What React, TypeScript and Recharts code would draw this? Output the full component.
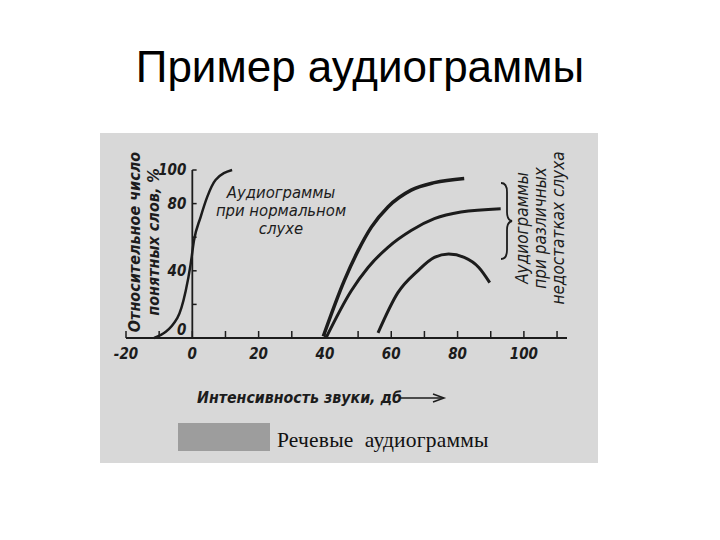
import React from 'react';
import { LineChart, Line, XAxis, YAxis, ReferenceLine, ReferenceDot } from 'recharts';

// интенсивность звука, дБ (ось X) / понятные слова, % (ось Y)
const normalHearing = [
  { x: -11.5, y: 0 },
  { x: -4.5, y: 12 },
  { x: -2, y: 28 },
  { x: -0.5, y: 44 },
  { x: 0.5, y: 58 },
  { x: 2.5, y: 72 },
  { x: 4.5, y: 84 },
  { x: 7, y: 94 },
  { x: 12, y: 100 },
];

const impairedHigh = [
  { x: 39.5, y: 1 },
  { x: 45.8, y: 34 },
  { x: 50, y: 52 },
  { x: 54, y: 66 },
  { x: 59, y: 78 },
  { x: 66, y: 88 },
  { x: 73, y: 92.5 },
  { x: 82, y: 95 },
];

const impairedMid = [
  { x: 40.3, y: 0 },
  { x: 47.9, y: 28 },
  { x: 53, y: 42 },
  { x: 59, y: 54 },
  { x: 66, y: 64 },
  { x: 73, y: 71 },
  { x: 81, y: 75 },
  { x: 93, y: 77 },
];

const impairedLow = [
  { x: 56, y: 3 },
  { x: 62, y: 27 },
  { x: 68, y: 40 },
  { x: 73, y: 48 },
  { x: 77.3, y: 50 },
  { x: 82, y: 48 },
  { x: 86.4, y: 42 },
  { x: 89.7, y: 33 },
];

const xTicks = [-20, -10, 0, 10, 20, 30, 40, 50, 60, 70, 80, 90, 100, 110];
const xLabels = [-20, 0, 20, 40, 60, 80, 100];
const yTicks = [20, 40, 60, 80, 100];
const yLabels = [100, 80, 40, 0];

const INK = '#1c1c1c';
const SCAN_FONT = '"Liberation Sans Narrow", "DejaVu Sans Condensed", "Liberation Sans", sans-serif';

function XTick(props: any) {
  const { x, y, payload } = props;
  const v = payload.value;
  return (
    <g>
      <line x1={x} y1={y} x2={x} y2={y - 7} stroke={INK} strokeWidth={1.5} />
      {xLabels.includes(v) && (
        <text
          x={x}
          y={y + 21}
          textAnchor="middle"
          fill={INK}
          fontSize={15}
          fontStyle="italic"
          fontWeight="bold"
          fontFamily={SCAN_FONT}
        >
          {v}
        </text>
      )}
    </g>
  );
}

export default function App() {
  return (
    <div style={{ position: 'absolute', left: 0, top: 0, width: 720, height: 540, background: '#fff', overflow: 'hidden' }}>
      <div
        style={{
          position: 'absolute',
          left: 0,
          top: 42,
          width: 720,
          textAlign: 'center',
          fontFamily: '"Liberation Sans", Arial, sans-serif',
          fontSize: 44,
          color: '#000',
        }}
      >
        Пример аудиограммы
      </div>

      <div style={{ position: 'absolute', left: 100, top: 133, width: 498, height: 330, background: '#d8d8d8' }} />

      <LineChart
        width={720}
        height={540}
        style={{ position: 'absolute', left: 0, top: 0 }}
        margin={{ top: 170, right: 153, bottom: 172, left: 126 }}
      >
        <XAxis
          dataKey="x"
          type="number"
          domain={[-20, 113]}
          ticks={xTicks}
          interval={0}
          height={30}
          tickSize={0}
          tickMargin={0}
          tickLine={false}
          axisLine={{ stroke: INK, strokeWidth: 1.8 }}
          tick={<XTick />}
          allowDataOverflow
        />
        <YAxis type="number" domain={[0, 100]} hide />
        <ReferenceLine segment={[{ x: 0, y: 0 }, { x: 0, y: 100 }]} stroke={INK} strokeWidth={1.8} />
        {yTicks.map((v) => (
          <ReferenceLine key={v} segment={[{ x: 0, y: v }, { x: 1.3, y: v }]} stroke={INK} strokeWidth={1.5} />
        ))}
        {yLabels.map((v) => (
          <ReferenceDot
            key={'l' + v}
            x={0}
            y={v === 0 ? 5 : v}
            r={1}
            fill="none"
            stroke="none"
            label={{
              value: String(v),
              position: 'left',
              offset: 5,
              fill: INK,
              fontSize: 15,
              fontStyle: 'italic',
              fontWeight: 'bold',
              fontFamily: SCAN_FONT,
            }}
          />
        ))}
        <Line data={normalHearing} dataKey="y" type="monotone" stroke={INK} strokeWidth={2.5} dot={false} isAnimationActive={false} />
        <Line data={impairedHigh} dataKey="y" type="monotone" stroke={INK} strokeWidth={3.5} dot={false} isAnimationActive={false} />
        <Line data={impairedMid} dataKey="y" type="monotone" stroke={INK} strokeWidth={3} dot={false} isAnimationActive={false} />
        <Line data={impairedLow} dataKey="y" type="monotone" stroke={INK} strokeWidth={3} dot={false} isAnimationActive={false} />
      </LineChart>

      {/* подпись оси Y */}
      <div
        style={{
          position: 'absolute',
          left: 144,
          top: 242,
          transform: 'translate(-50%, -50%) rotate(-90deg)',
          whiteSpace: 'nowrap',
          textAlign: 'center',
          fontFamily: SCAN_FONT,
          fontStyle: 'italic',
          fontWeight: 'bold',
          fontSize: 16,
          lineHeight: '19px',
          color: INK,
        }}
      >
        Относительное число
        <br />
        понятных слов, %
      </div>

      {/* подпись нормального слуха */}
      <div
        style={{
          position: 'absolute',
          left: 281,
          top: 184,
          transform: 'translateX(-50%)',
          whiteSpace: 'nowrap',
          textAlign: 'center',
          fontFamily: SCAN_FONT,
          fontStyle: 'italic',
          fontSize: 16.5,
          lineHeight: '18px',
          color: INK,
        }}
      >
        Аудиограммы
        <br />
        при нормальном
        <br />
        слухе
      </div>

      {/* фигурная скобка */}
      <svg style={{ position: 'absolute', left: 498, top: 180 }} width={20} height={82}>
        <path
          d="M3 3 Q9 3 9 12 L9 32 Q9 40 14 41 Q9 42 9 50 L9 70 Q9 79 3 79"
          fill="none"
          stroke={INK}
          strokeWidth={1.8}
        />
      </svg>

      {/* подпись нарушений слуха */}
      <div
        style={{
          position: 'absolute',
          left: 540,
          top: 228,
          transform: 'translate(-50%, -50%) rotate(-90deg)',
          whiteSpace: 'nowrap',
          textAlign: 'center',
          fontFamily: SCAN_FONT,
          fontStyle: 'italic',
          fontSize: 17,
          lineHeight: '18px',
          color: INK,
        }}
      >
        Аудиограммы
        <br />
        при различных
        <br />
        недостатках слуха
      </div>

      {/* подпись оси X */}
      <div
        style={{
          position: 'absolute',
          left: 197,
          top: 388,
          whiteSpace: 'nowrap',
          fontFamily: SCAN_FONT,
          fontStyle: 'italic',
          fontWeight: 'bold',
          fontSize: 15.8,
          color: INK,
        }}
      >
        Интенсивность звуки, дб
      </div>
      <svg style={{ position: 'absolute', left: 400, top: 392 }} width={48} height={12}>
        <line x1={0} y1={6} x2={43} y2={6} stroke={INK} strokeWidth={1.5} />
        <path d="M33 2 L44 6 L33 10" fill="none" stroke={INK} strokeWidth={1.5} />
      </svg>

      {/* легенда */}
      <div style={{ position: 'absolute', left: 178, top: 423, width: 92, height: 28, background: '#9d9d9d' }} />
      <div
        style={{
          position: 'absolute',
          left: 277,
          top: 428,
          whiteSpace: 'nowrap',
          fontFamily: '"Liberation Serif", "DejaVu Serif", serif',
          fontSize: 21.5,
          letterSpacing: 0.2,
          color: '#111',
        }}
      >
        Речевые&nbsp;&nbsp;аудиограммы
      </div>
    </div>
  );
}
